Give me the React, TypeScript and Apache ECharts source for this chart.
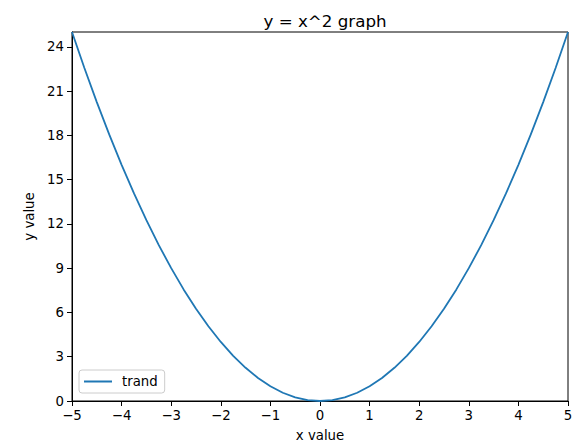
import React, { useEffect, useRef } from "react";
import * as echarts from "echarts";

const xValues = [
  -5, -4.75, -4.5, -4.25, -4, -3.75, -3.5, -3.25, -3, -2.75, -2.5, -2.25, -2, -1.75, -1.5, -1.25, -1, -0.75, -0.5, -0.25,
  0, 0.25, 0.5, 0.75, 1, 1.25, 1.5, 1.75, 2, 2.25, 2.5, 2.75, 3, 3.25, 3.5, 3.75, 4, 4.25, 4.5, 4.75, 5,
];
const yValues = [
  25, 22.56, 20.25, 18.06, 16, 14.06, 12.25, 10.56, 9, 7.56, 6.25, 5.06, 4, 3.06, 2.25, 1.56, 1, 0.56, 0.25, 0.06,
  0, 0.06, 0.25, 0.56, 1, 1.56, 2.25, 3.06, 4, 5.06, 6.25, 7.56, 9, 10.56, 12.25, 14.06, 16, 18.06, 20.25, 22.56, 25,
];
const xTicks = [-5, -4, -3, -2, -1, 0, 1, 2, 3, 4, 5];
const yTicks = [0, 3, 6, 9, 12, 15, 18, 21, 24];
const seriesName = "trand";

const FONT = "DejaVu Sans";
const FS = 13.3;
const fmt = (v: number) => String(v).replace("-", "\u2212");

export default function App() {
  const ref = useRef<HTMLDivElement>(null);
  useEffect(() => {
    const chart = echarts.init(ref.current!, null, { renderer: "svg" });
    chart.setOption({
      animation: false,
      title: {
        text: "y = x^2 graph",
        left: 320,
        textAlign: "center",
        top: 7,
        textStyle: { fontFamily: FONT, fontSize: 16.7, fontWeight: "normal", color: "#000" },
      },
      grid: {
        left: 72,
        right: 12,
        top: 32,
        bottom: 45,
        show: true,
        borderColor: "#000",
        borderWidth: 1,
        backgroundColor: "#fff",
      },
      legend: {
        left: 79,
        top: 370,
        orient: "vertical",
        data: [{ name: seriesName, icon: "rect" }],
        itemWidth: 28,
        itemHeight: 2,
        padding: [5, 7, 5, 5],
        borderColor: "#cccccc",
        borderWidth: 1,
        borderRadius: 3,
        backgroundColor: "#fff",
        textStyle: { fontFamily: FONT, fontSize: FS, color: "#000", padding: [0, 0, 0, 5] },
      },
      xAxis: {
        type: "value",
        min: -5,
        max: 5,
        name: "x value",
        nameLocation: "middle",
        nameGap: 28,
        nameTextStyle: { fontFamily: FONT, fontSize: FS, color: "#000" },
        axisLine: { show: true, onZero: false, lineStyle: { color: "#000" } },
        axisTick: { show: true, length: 5, lineStyle: { color: "#000" }, customValues: xTicks },
        axisLabel: {
          fontFamily: FONT,
          fontSize: FS,
          color: "#000",
          margin: 8,
          customValues: xTicks,
          formatter: (v: number) => fmt(v),
        },
        splitLine: { show: false },
      },
      yAxis: {
        type: "value",
        min: 0,
        max: 25,
        name: "y value",
        nameLocation: "middle",
        nameGap: 35,
        nameTextStyle: { fontFamily: FONT, fontSize: FS, color: "#000" },
        axisLine: { show: true, onZero: false, lineStyle: { color: "#000" } },
        axisTick: { show: true, length: 5, lineStyle: { color: "#000" }, customValues: yTicks },
        axisLabel: {
          fontFamily: FONT,
          fontSize: FS,
          color: "#000",
          margin: 8,
          customValues: yTicks,
          formatter: (v: number) => fmt(v),
        },
        splitLine: { show: false },
      },
      series: [
        {
          name: seriesName,
          type: "line",
          data: xValues.map((x, i) => [x, yValues[i]]),
          showSymbol: false,
          symbol: "none",
          smooth: false,
          lineStyle: { color: "#1f77b4", width: 1.8 },
          itemStyle: { color: "#1f77b4" },
        },
      ],
    });
    return () => chart.dispose();
  }, []);
  return <div ref={ref} style={{ position: "absolute", left: 0, top: 0, width: 580, height: 447 }} />;
}
